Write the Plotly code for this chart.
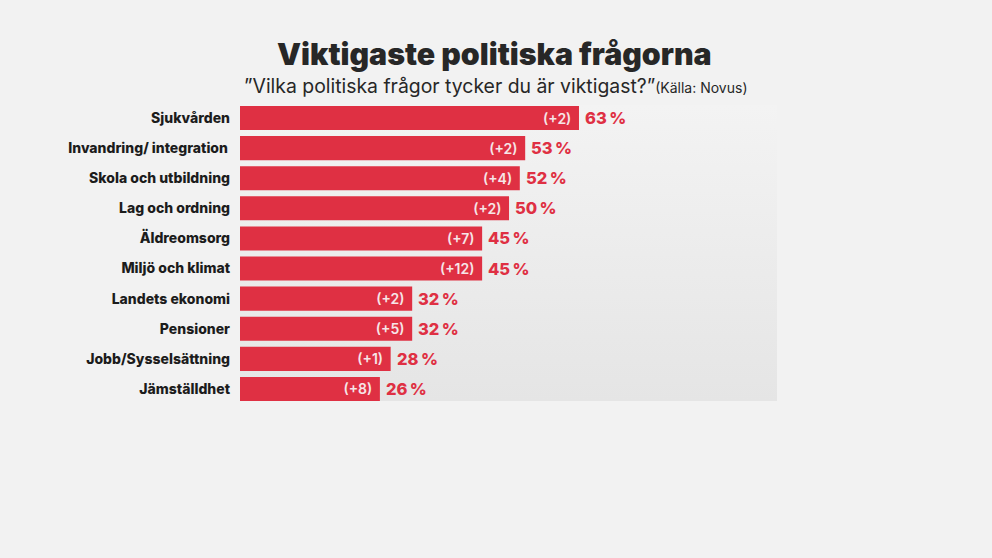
import plotly.graph_objects as go

# Data
categories = ["Sjukvården", "Invandring/ integration\u2009", "Skola och utbildning", "Lag och ordning",
              "Äldreomsorg", "Miljö och klimat", "Landets ekonomi", "Pensioner",
              "Jobb/Sysselsättning", "Jämställdhet"]
values = [63, 53, 52, 50, 45, 45, 32, 32, 28, 26]
changes = ["(+2)", "(+2)", "(+4)", "(+2)", "(+7)", "(+12)", "(+2)", "(+5)", "(+1)", "(+8)"]

W, H = 992, 558
RED = "#df3043"
DARK = "#272727"
FONT = "Inter"

X_RANGE = [0, 99.8]
Y_RANGE = [9.4, -0.432]
rows = list(range(len(categories)))

# Grey gradient panel, drawn as an image so it stays under the bars
GRADIENT = ("data:image/svg+xml;utf8,<svg xmlns='http://www.w3.org/2000/svg' width='10' height='10' "
            "preserveAspectRatio='none'><linearGradient id='g' x1='0' y1='0' x2='0' y2='1'>"
            "<stop offset='0' stop-color='%23f3f3f3'/><stop offset='1' stop-color='%23e5e5e5'/>"
            "</linearGradient><rect width='10' height='10' fill='url(%23g)'/></svg>")

fig = go.Figure()

fig.add_trace(go.Bar(
    y=rows, x=values, orientation="h", width=0.8,
    marker=dict(color=RED, line_width=0),
    text=[c + "\u2009\u2009" for c in changes],
    textposition="inside", insidetextanchor="end", textangle=0,
    constraintext="none",
    textfont=dict(family=FONT, size=14, color="#f6e6e8", weight=600),
))

annotations = [
    dict(text="Viktigaste politiska frågorna", x=494.5 / W, y=1 - 54 / H, xref="paper", yref="paper",
         showarrow=False, xanchor="center", yanchor="middle",
         font=dict(family=FONT, size=30.3, color=DARK, weight=900)),
    dict(text='”Vilka politiska frågor tycker du är viktigast?”<span style="font-size:14px">(Källa: Novus)</span>',
         x=496 / W, y=1 - 86 / H, xref="paper", yref="paper",
         showarrow=False, xanchor="center", yanchor="middle",
         font=dict(family=FONT, size=19.4, color=DARK)),
]
# Percent labels right of the bars
for row, v in zip(rows, values):
    annotations.append(dict(text=f"{v}\u2009%", x=v, y=row, xref="x", yref="y", showarrow=False,
                            xanchor="left", yanchor="middle", xshift=4,
                            font=dict(family=FONT, size=16.5, color=RED, weight=800)))

fig.update_layout(
    width=W, height=H, showlegend=False,
    margin=dict(l=0, r=0, t=0, b=0),
    paper_bgcolor="#f2f2f2", plot_bgcolor="rgba(0,0,0,0)",
    xaxis=dict(domain=[240 / W, 777 / W], range=X_RANGE, visible=False, fixedrange=True),
    yaxis=dict(domain=[1 - 401 / H, 1 - 105 / H], range=Y_RANGE, automargin=False, fixedrange=True,
               tickmode="array", tickvals=rows, ticktext=categories,
               ticks="", ticklabelstandoff=9, showline=False, showgrid=False, zeroline=False,
               tickfont=dict(family=FONT, size=14, color="#1c1c1c", weight=800)),
    images=[dict(source=GRADIENT, xref="paper", yref="paper", x=240 / W, y=1 - 105 / H,
                 sizex=537 / W, sizey=296 / H, sizing="stretch", layer="below",
                 xanchor="left", yanchor="top")],
    annotations=annotations,
)

# the browser's default body margin would shift the page by 8px
fig.write_html("out.html", config={"displayModeBar": False},
               post_script="document.body.style.margin='0';")
